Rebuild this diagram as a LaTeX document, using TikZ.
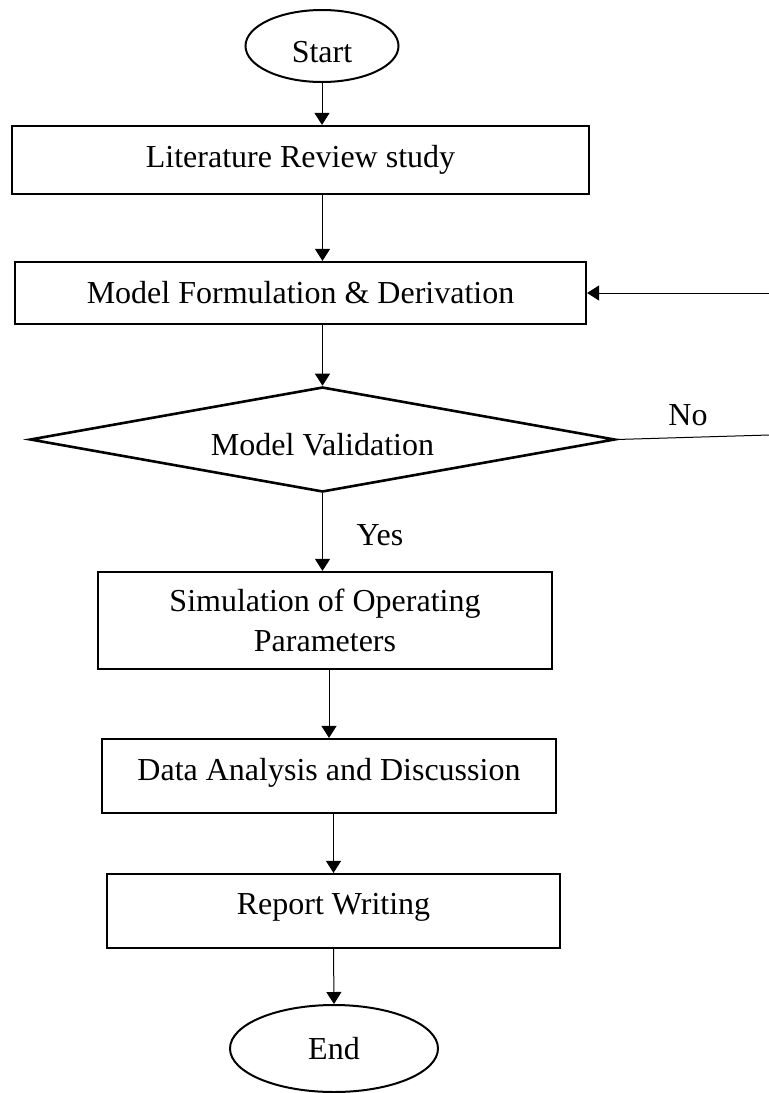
\documentclass[tikz,border=0pt]{standalone}
\usepackage{fontspec}
\setmainfont{Liberation Serif}
\usetikzlibrary{shapes.geometric}
\usetikzlibrary{arrows.meta}

\begin{document}
\begin{tikzpicture}[x=0.5pt, y=-0.5pt,
  font=\fontsize{16}{20}\selectfont,
  box/.style={draw, line width=1.1pt, inner sep=0pt, align=center},
  term/.style={draw, ellipse, line width=1pt, inner sep=0pt},
  arrow/.style={-{Triangle[length=6pt,width=7.5pt]}, line width=0.5pt}]
\useasboundingbox (0,0) rectangle (769,1093);

\node[term, minimum width=76.5pt, minimum height=36pt, text height=17pt] (start) at (322,46) {Start};
\node[box, minimum width=288.5pt, minimum height=34pt] (lit) at (300.5,160) {Literature Review study};
\node[box, minimum width=285.5pt, minimum height=31pt] (model) at (300.5,293) {Model Formulation \& Derivation};
\node[draw, diamond, aspect=5.6, line width=1.3pt, inner sep=0pt, minimum width=292.5pt, minimum height=52.5pt, text height=16pt] (valid) at (322.5,439.5) {Model Validation};
\node[box, minimum width=227pt, minimum height=48.5pt] (sim) at (325,620.5) {Simulation of Operating\\Parameters};
\node[box, minimum width=227pt, minimum height=37pt, text depth=7pt] (data) at (329,776) {Data Analysis and Discussion};
\node[box, minimum width=226.5pt, minimum height=37pt, text depth=7pt] (report) at (333.5,911) {Report Writing};
\node[term, minimum width=104pt, minimum height=43.5pt] (end) at (334,1048.5) {End};

\node (yes) at (380,535) {Yes};
\node (no) at (688,415) {No};
\coordinate (fbin) at (769,293);
\coordinate (noend) at (769,435);

\draw[arrow] (start.south) -- (start.south |- lit.north);
\draw[arrow] (lit.south -| valid.north) -- (model.north -| valid.north);
\draw[arrow] (model.south -| valid.north) -- (valid.north);
\draw[arrow] (valid.south) -- (valid.south |- sim.north);
\draw[arrow] (sim.south -| data.north) -- (data.north);
\draw[arrow] (data.south -| report.north) -- (report.north);
\draw[arrow] (report.south) -- (end.north);
\draw[arrow] (fbin) -- (model.east);
\draw[line width=0.5pt] (valid.east) -- (noend);
\end{tikzpicture}
\end{document}
